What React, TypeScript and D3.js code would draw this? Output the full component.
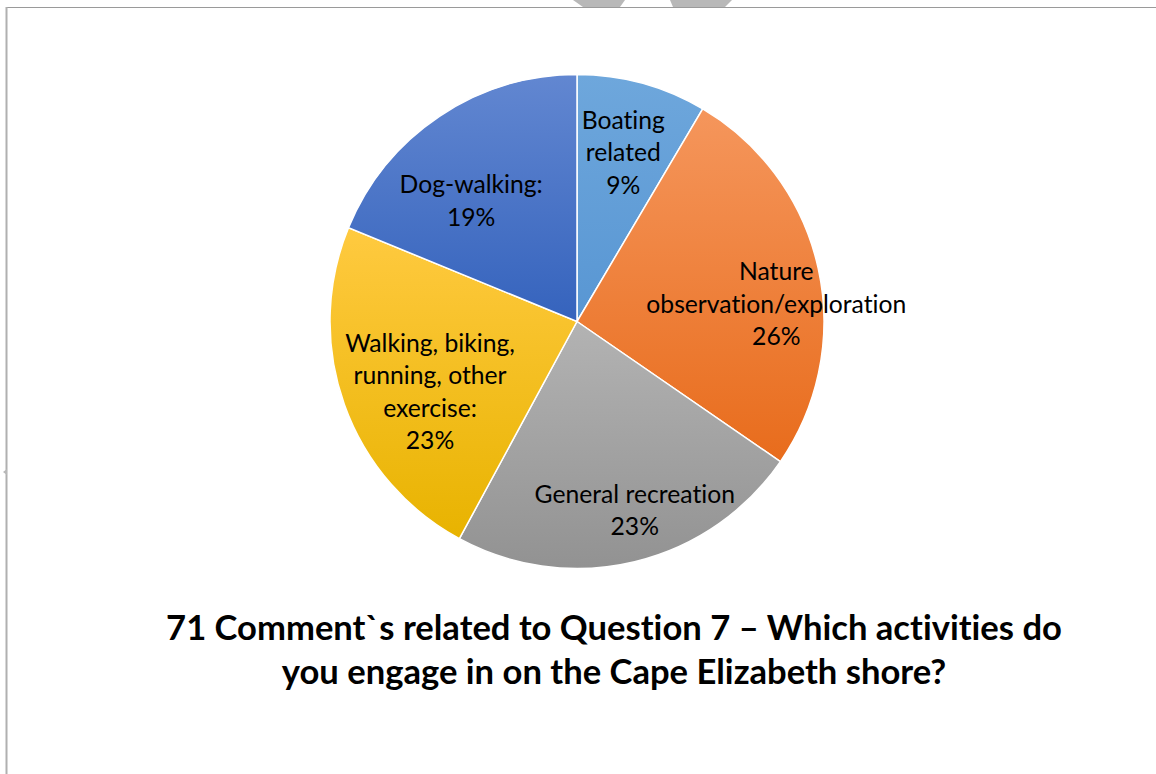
import React from "react";
import * as d3 from "d3";

const categories = [
  "Boating related",
  "Nature observation/exploration",
  "General recreation",
  "Walking, biking, running, other exercise:",
  "Dog-walking:",
];
const values = [8.5, 26.1, 23.3, 23.3, 18.8];
const labelLines = [
  ["Boating", "related", "9%"],
  ["Nature", "observation/exploration", "26%"],
  ["General recreation", "23%"],
  ["Walking, biking,", "running, other", "exercise:", "23%"],
  ["Dog-walking:", "19%"],
];
const colorTop = ["#6ea7dc", "#f5965c", "#b3b3b3", "#ffca40", "#6287d1"];
const colorBottom = ["#5896d3", "#e86c1c", "#929292", "#e8b300", "#3563bd"];
// label placement: [radius factor, angle offset in degrees]
const labelPlace: [number, number][] = [
  [0.71, 0],
  [0.81, 7.4],
  [0.8, -3.5],
  [0.66, -6],
  [0.65, -7.4],
];
const titleLines = [
  "71 Comment`s related to Question 7 \u2013 Which activities do",
  "you engage in on the Cape Elizabeth shore?",
];

const W = 1156;
const H = 774;
const cx = 577;
const cy = 321.5;
const R = 247;
const font = "Lato, 'Open Sans', sans-serif";

export default function App() {
  const pie = d3.pie<number>().sort(null).value((d) => d);
  const arcs = pie(values);
  const arc = d3.arc<d3.PieArcDatum<number>>().innerRadius(0).outerRadius(R);
  const fs = 24.7;
  const lh = 32.5;

  return (
    <svg
      width={W}
      height={H}
      style={{ position: "absolute", left: 0, top: 0, background: "#fff", fontVariantLigatures: "none" }}
    >
      <defs>
        {arcs.map((a, i) => (
          <linearGradient key={i} id={`g${i}`} x1="0" y1="0" x2="0" y2="1">
            <stop offset="0%" stopColor={colorTop[i]} />
            <stop offset="100%" stopColor={colorBottom[i]} />
          </linearGradient>
        ))}
      </defs>
      <rect x={0} y={0} width={W} height={H} fill="#fff" />
      {/* frame */}
      <line x1={6} y1={7.5} x2={W} y2={7.5} stroke="#9a9a9a" strokeWidth={1} />
      <line x1={6.5} y1={7} x2={6.5} y2={H} stroke="#b0b0b0" strokeWidth={2} />
      <path d="M573,0 L625,0 L620,7 L583,7 Z" fill="#b8b8b8" />
      <path d="M670,0 L732,0 L725,7 L673,7 Z" fill="#b8b8b8" />
      <path d="M7,469 L3,472 L7,475 Z" fill="#b8b8b8" />
      <g transform={`translate(${cx},${cy})`}>
        {arcs.map((a, i) => (
          <path
            key={i}
            d={arc(a) || ""}
            fill={`url(#g${i})`}
            stroke="#fff"
            strokeWidth={1.5}
          />
        ))}
        {arcs.map((a, i) => {
          const mid = (a.startAngle + a.endAngle) / 2 + (labelPlace[i][1] * Math.PI) / 180;
          const r = R * labelPlace[i][0];
          const x = r * Math.sin(mid);
          const y = -r * Math.cos(mid);
          const lines = labelLines[i];
          const y0 = y - ((lines.length - 1) * lh) / 2;
          return (
            <text
              key={i}
              textAnchor="middle"
              fontFamily={font}
              fontSize={fs}
              fill="#000"
              style={{ fontVariantLigatures: "none" }}
            >
              {lines.map((l, j) => (
                <tspan key={j} x={x} y={y0 + j * lh} dy="0.35em">
                  {l}
                </tspan>
              ))}
            </text>
          );
        })}
      </g>
      <text
        textAnchor="middle"
        fontFamily={font}
        fontWeight="bold"
        fontSize={34.6}
        fill="#000"
        style={{ fontVariantLigatures: "none" }}
      >
        {titleLines.map((t, j) => (
          <tspan key={j} x={614} y={628 + j * 44} dy="0.35em">
            {t}
          </tspan>
        ))}
      </text>
    </svg>
  );
}
